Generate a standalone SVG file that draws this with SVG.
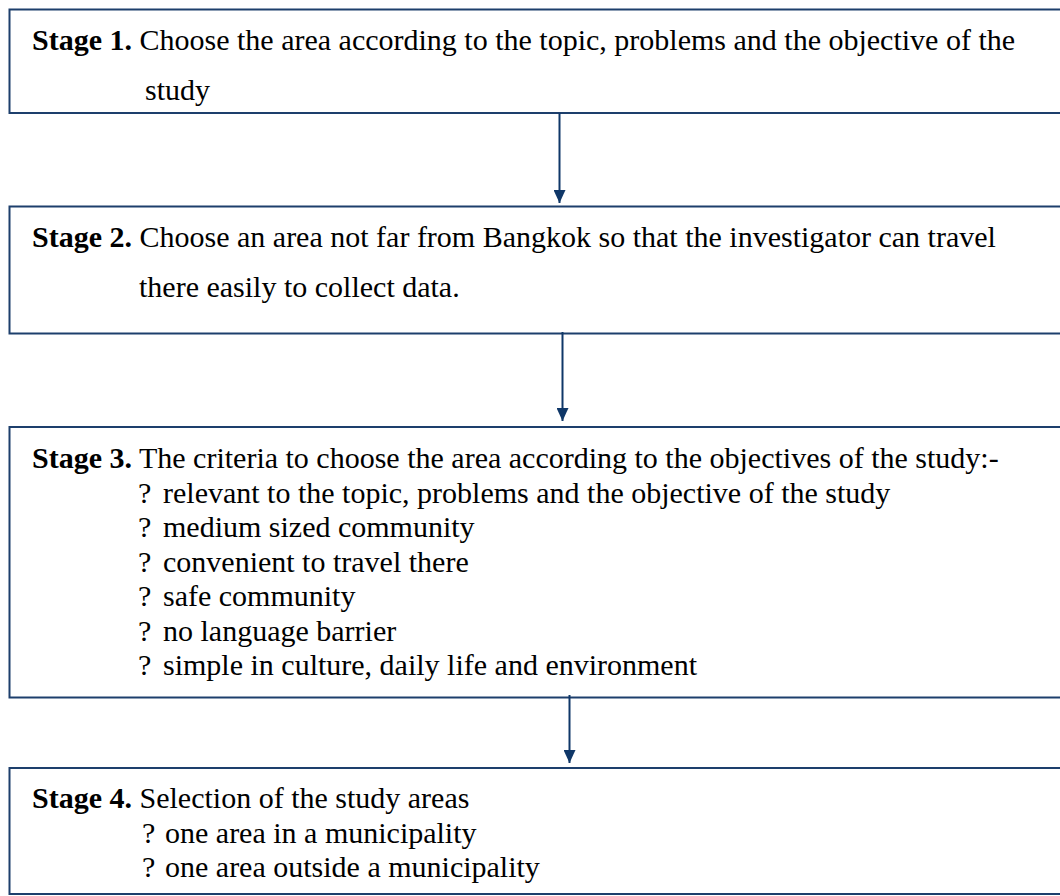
<svg xmlns="http://www.w3.org/2000/svg" width="1060" height="896" viewBox="0 0 1060 896">
<style>
.box{fill:#ffffff;stroke:#1d3f6c;stroke-width:2}
.t{font-family:"Liberation Serif","Times New Roman",serif;font-size:30px;fill:#000000}
.b{font-weight:bold}
.conn{stroke:#0f3768;stroke-width:2;fill:none}
</style>
<defs>
<marker id="ah" viewBox="0 0 13 12" refX="13" refY="6" markerWidth="13" markerHeight="12" markerUnits="userSpaceOnUse" orient="auto">
<path d="M0,0 L13,6 L0,12 Z" fill="#0f3768"/>
</marker>
</defs>
<rect width="1060" height="896" fill="#ffffff"/>
<g id="stage1">
<rect class="box" x="9.5" y="9.5" width="1060" height="103.5"/>
<text class="t" x="32" y="50"><tspan class="b">Stage 1.</tspan> Choose the area according to the topic, problems and the objective of the</text>
<text class="t" x="145" y="100">study</text>
</g>
<g id="stage2">
<rect class="box" x="9.5" y="206.5" width="1060" height="127"/>
<text class="t" x="32" y="247"><tspan class="b">Stage 2.</tspan> Choose an area not far from Bangkok so that the investigator can travel</text>
<text class="t" x="139" y="297">there easily to collect data.</text>
</g>
<g id="stage3">
<rect class="box" x="9.5" y="427" width="1060" height="270.5"/>
<text class="t" x="32" y="468"><tspan class="b">Stage 3.</tspan> The criteria to choose the area according to the objectives of the study:-</text>
<text class="t" y="502.5"><tspan x="138">?</tspan><tspan x="163">relevant to the topic, problems and the objective of the study</tspan></text>
<text class="t" y="537"><tspan x="138">?</tspan><tspan x="163">medium sized community</tspan></text>
<text class="t" y="571.5"><tspan x="138">?</tspan><tspan x="163">convenient to travel there</tspan></text>
<text class="t" y="606"><tspan x="138">?</tspan><tspan x="163">safe community</tspan></text>
<text class="t" y="640.5"><tspan x="138">?</tspan><tspan x="163">no language barrier</tspan></text>
<text class="t" y="675"><tspan x="138">?</tspan><tspan x="163">simple in culture, daily life and environment</tspan></text>
</g>
<g id="stage4">
<rect class="box" x="9.5" y="768" width="1060" height="126"/>
<text class="t" x="32" y="808"><tspan class="b">Stage 4.</tspan> Selection of the study areas</text>
<text class="t" y="842.5"><tspan x="142">?</tspan><tspan x="165">one area in a municipality</tspan></text>
<text class="t" y="877"><tspan x="142">?</tspan><tspan x="165">one area outside a municipality</tspan></text>
</g>
<g id="connectors">
<line class="conn" x1="559.5" y1="113" x2="559.5" y2="203" marker-end="url(#ah)"/>
<line class="conn" x1="562.5" y1="332" x2="562.5" y2="421" marker-end="url(#ah)"/>
<line class="conn" x1="569.5" y1="695" x2="569.5" y2="763" marker-end="url(#ah)"/>
</g>
</svg>
